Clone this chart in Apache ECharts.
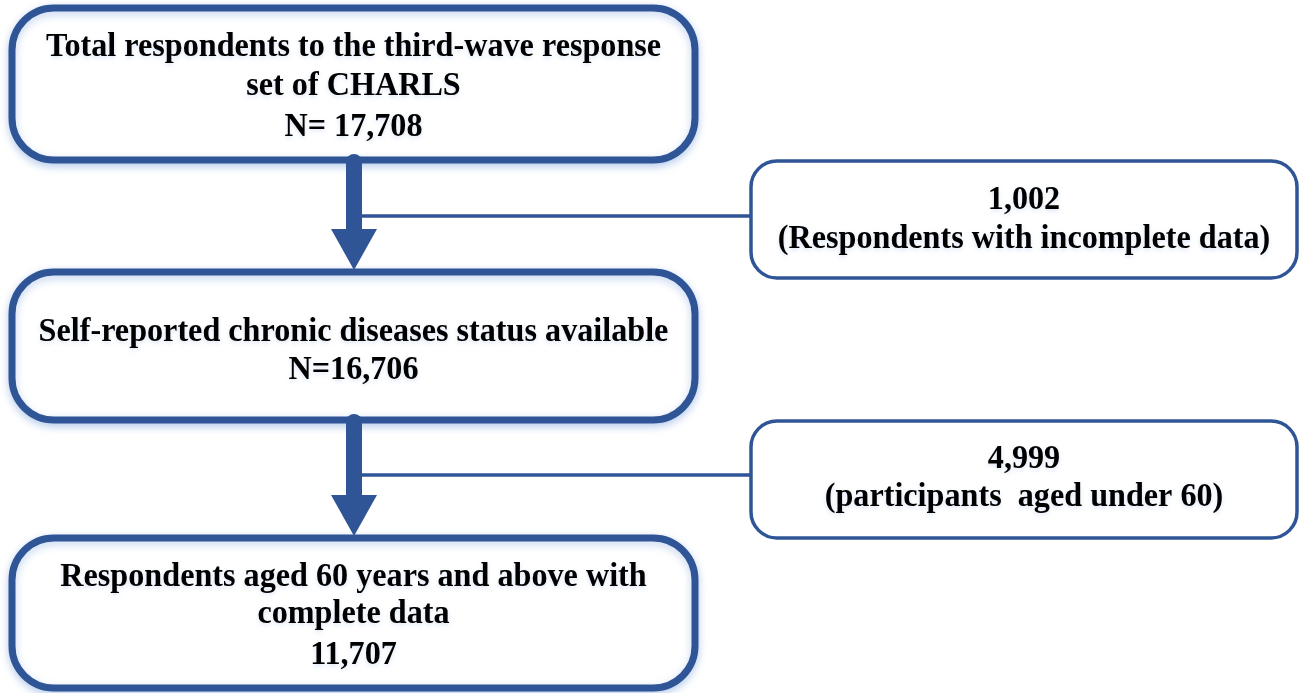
<!DOCTYPE html>
<html>
<head>
<meta charset="utf-8">
<script src="https://cdn.jsdelivr.net/npm/echarts@6/dist/echarts.min.js"></script>
<style>
  html, body { margin: 0; padding: 0; background: #fff; }
  #chart { width: 1300px; height: 693px; }
</style>
</head>
<body>
<div id="chart"></div>
<script>
  // flow steps (main column)
  var stepLabels = [
    ['Total respondents to the third-wave response', 'set of CHARLS'],
    ['Self-reported chronic diseases status available'],
    ['Respondents aged 60 years and above with', 'complete data']
  ]
  var stepCounts = ['N= 17,708', 'N=16,706', '11,707']

  // exclusions (side boxes)
  var excludedCounts = ['1,002', '4,999']
  var excludedLabels = ['(Respondents with incomplete data)', '(participants  aged under 60)']

  var blue = '#2F5597'
  var font = 'bold 33px "Liberation Serif", "Times New Roman", serif'
  var squeeze = 0.975

  // layout of the main boxes / side boxes
  var mainBoxes = [
    { x: 12, y: 8, w: 683, h: 152, lines: [47, 86, 127] },
    { x: 12, y: 272, w: 683, h: 148, lines: [332, 370] },
    { x: 12, y: 538, w: 683, h: 150, lines: [577, 614, 655] }
  ]
  var sideBoxes = [
    { x: 751, y: 161, w: 546, h: 117, lines: [200, 239], link: 216 },
    { x: 751, y: 421, w: 546, h: 117, lines: [459, 497], link: 475 }
  ]
  var shaftX = 354
  var shaftW = 16

  var chart = echarts.init(document.getElementById('chart'), null, { renderer: 'canvas' })
  var elements = []

  function textAt (str, cx, cy) {
    elements.push({
      type: 'text',
      x: cx,
      y: cy,
      scaleX: squeeze,
      z: 10,
      style: {
        text: str,
        font: font,
        fill: '#000',
        align: 'center',
        verticalAlign: 'middle',
        textShadowColor: 'rgba(150,180,230,0.35)',
        textShadowBlur: 4,
        textShadowOffsetY: 2
      }
    })
  }

  mainBoxes.forEach(function (b, i) {
    elements.push({
      type: 'rect',
      shape: { x: b.x, y: b.y, width: b.w, height: b.h, r: 42 },
      style: {
        fill: '#fff',
        stroke: blue,
        lineWidth: 7,
        shadowBlur: 8,
        shadowColor: 'rgba(120,160,220,0.45)',
        shadowOffsetY: 3
      },
      z: 2
    })
    var cx = b.x + b.w / 2
    var lines = stepLabels[i].concat([stepCounts[i]])
    lines.forEach(function (t, k) { textAt(t, cx, b.lines[k]) })
  })

  sideBoxes.forEach(function (b, i) {
    elements.push({
      type: 'rect',
      shape: { x: b.x, y: b.y, width: b.w, height: b.h, r: 26 },
      style: { fill: '#fff', stroke: blue, lineWidth: 3.5 },
      z: 2
    })
    var cx = b.x + b.w / 2
    textAt(excludedCounts[i], cx, b.lines[0])
    textAt(excludedLabels[i], cx, b.lines[1])
    // connector from the arrow shaft
    elements.push({
      type: 'rect',
      shape: { x: shaftX, y: b.link - 1.75, width: b.x - shaftX, height: 3.5 },
      style: { fill: blue },
      z: 1
    })
  })

  // arrows between main boxes
  for (var i = 0; i < mainBoxes.length - 1; i++) {
    var boxBottom = mainBoxes[i].y + mainBoxes[i].h
    var tipY = mainBoxes[i + 1].y - 2
    var headTop = tipY - 41
    elements.push({
      type: 'rect',
      shape: { x: shaftX - shaftW / 2, y: boxBottom - 6, width: shaftW, height: headTop - boxBottom + 8, r: [8, 8, 0, 0] },
      style: { fill: blue },
      z: 3
    })
    elements.push({
      type: 'polygon',
      shape: { points: [[shaftX - 23, headTop], [shaftX + 23, headTop], [shaftX, tipY]] },
      style: { fill: blue },
      z: 3
    })
  }

  chart.setOption({
    backgroundColor: '#fff',
    animation: false,
    graphic: { elements: elements }
  })
</script>
</body>
</html>
